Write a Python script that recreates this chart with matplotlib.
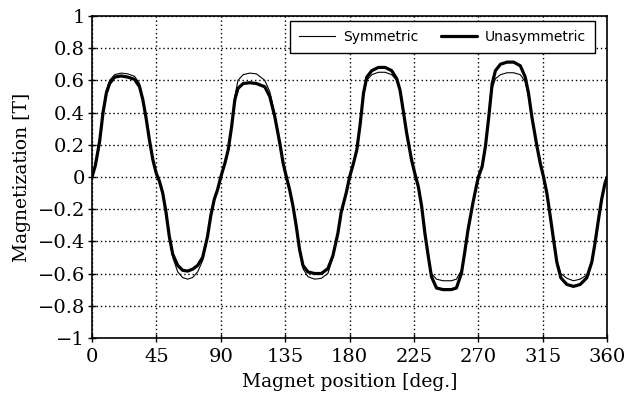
import matplotlib
matplotlib.use("Agg")
import matplotlib.pyplot as plt

# magnet position [deg] and magnetization [T]
posicao = [0, 2.3, 5.3, 7.7, 10, 12.3, 15.8, 20.4, 25, 29.7, 33.2, 35.5, 37.8, 40.1, 42.5,
           44.8, 47.1, 49.4, 51.7, 54, 56.4, 59.9, 63.3, 66.8, 70.3, 73.8, 77.3, 80.7, 83,
           85.4, 87.7,
           90, 93, 95.2, 97.5, 99.8, 102, 105.6, 110.3, 114.9, 120.7, 124.2, 127.7, 131.2,
           133.5, 135.8, 138.1, 140.4, 142.7, 145, 147.4, 150.9, 155.5, 160.2, 164.8, 168.3,
           171.8, 174.1, 177.6,
           180, 182.7, 185, 187.4, 189.7, 192, 195.5, 200.1, 204.8, 209.4, 212.9, 215.2,
           217.5, 219.9, 223.3, 225.6, 228, 230.3, 232.6, 234.9, 237.2, 240.7, 245.3, 251.1,
           254.6, 258.1, 260.4, 262.7, 266.2, 268.5,
           270, 272.6, 274.9, 277.2, 279.6, 281.9, 285.4, 290, 294.6, 299.3, 302.7, 305,
           307.4, 310.9, 313.2, 315.5, 317.8, 320.2, 322.5, 324.8, 327.6, 331.8, 336.4, 341.1,
           345.7, 349.2, 351.5, 353.8, 356.1, 358.4, 360]

simetrico = [0, 0.07, 0.22, 0.41, 0.54, 0.60, 0.635, 0.645, 0.64, 0.625, 0.58, 0.49, 0.365,
             0.23, 0.107, 0.025, -0.027, -0.10, -0.22, -0.38, -0.50, -0.59, -0.625, -0.635,
             -0.625, -0.59, -0.52, -0.38, -0.24, -0.14, -0.08,
             0.0, 0.09, 0.17, 0.31, 0.50, 0.60, 0.635, 0.645, 0.64, 0.60, 0.53, 0.39, 0.21,
             0.087, 0.0, -0.08, -0.18, -0.305, -0.46, -0.57, -0.62, -0.635, -0.63, -0.60,
             -0.50, -0.35, -0.22, -0.10,
             0.0, 0.085, 0.167, 0.33, 0.51, 0.60, 0.635, 0.65, 0.65, 0.635, 0.60, 0.53, 0.41,
             0.27, 0.105, 0.02, -0.06, -0.18, -0.35, -0.49, -0.60, -0.635, -0.645, -0.645,
             -0.635, -0.58, -0.47, -0.33, -0.16, -0.06,
             0.0, 0.064, 0.19, 0.37, 0.55, 0.61, 0.635, 0.647, 0.647, 0.635, 0.59, 0.50, 0.37,
             0.19, 0.085, 0.0, -0.10, -0.245, -0.39, -0.52, -0.60, -0.63, -0.645, -0.635,
             -0.61, -0.52, -0.41, -0.27, -0.14, -0.04, 0.0]

assimetrico = [0, 0.07, 0.22, 0.40, 0.52, 0.58, 0.62, 0.627, 0.62, 0.606, 0.56, 0.48, 0.365,
               0.23, 0.107, 0.025, -0.027, -0.10, -0.22, -0.37, -0.48, -0.55, -0.58, -0.585,
               -0.573, -0.55, -0.50, -0.37, -0.24, -0.14, -0.08,
               0.0, 0.09, 0.17, 0.31, 0.48, 0.55, 0.58, 0.585, 0.58, 0.56, 0.50, 0.375, 0.21,
               0.087, 0.0, -0.08, -0.18, -0.305, -0.45, -0.55, -0.59, -0.60, -0.60, -0.57,
               -0.49, -0.35, -0.22, -0.10,
               0.0, 0.085, 0.167, 0.33, 0.52, 0.62, 0.66, 0.68, 0.68, 0.66, 0.61, 0.54, 0.41,
               0.27, 0.105, 0.02, -0.06, -0.18, -0.35, -0.49, -0.62, -0.69, -0.70, -0.70,
               -0.69, -0.60, -0.47, -0.33, -0.16, -0.06,
               0.0, 0.064, 0.19, 0.37, 0.58, 0.66, 0.70, 0.713, 0.713, 0.69, 0.62, 0.52, 0.37,
               0.19, 0.085, 0.0, -0.10, -0.245, -0.39, -0.53, -0.627, -0.668, -0.68, -0.668,
               -0.627, -0.53, -0.41, -0.27, -0.14, -0.04, 0.0]

x_ticks = [0, 45, 90, 135, 180, 225, 270, 315, 360]
y_ticks = [-1, -0.8, -0.6, -0.4, -0.2, 0, 0.2, 0.4, 0.6, 0.8, 1]
y_labels = ["\u22121", "\u22120.8", "\u22120.6", "\u22120.4", "\u22120.2", "0",
            "0.2", "0.4", "0.6", "0.8", "1"]

fig = plt.figure(figsize=(6.26, 3.98), dpi=100)
ax = fig.add_axes([0.147, 0.151, 0.823, 0.809])

ax.plot(posicao, simetrico, color="black", linewidth=0.8, label="Symmetric",
        solid_joinstyle="round")
ax.plot(posicao, assimetrico, color="black", linewidth=2.3, label="Unasymmetric",
        solid_joinstyle="round", solid_capstyle="round")

ax.set_xlim(0, 360)
ax.set_ylim(-1, 1)
ax.set_xticks(x_ticks)
ax.set_yticks(y_ticks)
ax.set_yticklabels(y_labels)
ax.grid(True, color="black", linestyle=(0, (1, 2)), linewidth=1.0)
ax.tick_params(axis="both", direction="inout", length=6, width=1, labelsize=14)
ax.tick_params(axis="x", pad=4)
ax.tick_params(axis="y", pad=2)
for lab in ax.get_xticklabels() + ax.get_yticklabels():
    lab.set_family("DejaVu Serif")
for sp in ax.spines.values():
    sp.set_linewidth(1.2)

ax.set_xlabel("Magnet position [deg.]", family="DejaVu Serif", fontsize=13.5, labelpad=5)
ax.set_ylabel("Magnetization [T]", family="DejaVu Serif", fontsize=13.5, labelpad=5)

leg = ax.legend(loc="upper right", bbox_to_anchor=(0.977, 0.984), ncol=2,
                fontsize=10, frameon=True, fancybox=False, borderaxespad=0,
                handlelength=2.6, handletextpad=0.6, columnspacing=1.6,
                borderpad=0.65)
leg.get_frame().set_edgecolor("black")
leg.get_frame().set_linewidth(1.0)
leg.get_frame().set_alpha(1)

fig.savefig("out.png", dpi=100)
